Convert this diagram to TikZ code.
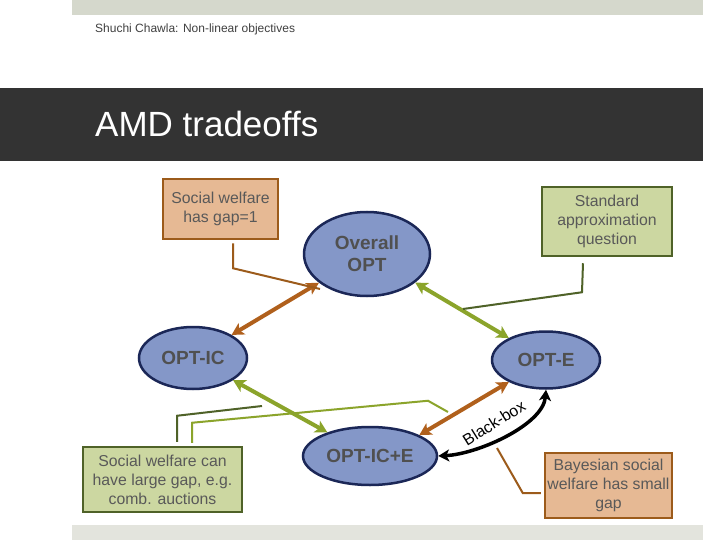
\documentclass[tikz,border=0pt]{standalone}
\usepackage{fontspec}
\setmainfont{Liberation Sans}
\usetikzlibrary{shapes.geometric,arrows.meta}
\definecolor{topbar}{HTML}{D5D8CC}
\definecolor{botbar}{HTML}{E3E4DD}
\definecolor{darkbar}{HTML}{333333}
\definecolor{ellfill}{HTML}{8497C8}
\definecolor{ellline}{HTML}{1B2757}
\definecolor{elltext}{HTML}{505050}
\definecolor{tanfill}{HTML}{E6B994}
\definecolor{tanline}{HTML}{9C5B1B}
\definecolor{grnfill}{HTML}{CCD7A1}
\definecolor{grnline}{HTML}{4F6228}
\definecolor{brownarr}{HTML}{B0601C}
\definecolor{greenarr}{HTML}{8BA42B}
\definecolor{boxtext}{HTML}{595959}
\definecolor{hdrtext}{HTML}{404040}
\begin{document}
\begin{tikzpicture}[x=1pt,y=-1pt,
  ell/.style={ellipse, draw=ellline, line width=2.5pt, fill=ellfill, inner sep=0pt,
    font=\fontsize{19}{22}\selectfont\bfseries, text=elltext, align=center},
  tanbox/.style={rectangle, draw=tanline, line width=2.5pt, fill=tanfill, inner sep=0pt,
    font=\fontsize{15.8}{19}\selectfont, text=boxtext, align=center},
  grnbox/.style={rectangle, draw=grnline, line width=2.5pt, fill=grnfill, inner sep=0pt,
    font=\fontsize{15.8}{19}\selectfont, text=boxtext, align=center},
  tipb/.tip={Stealth[length=12pt,width=13pt,inset=3pt]},
  dbl/.style={line width=4pt, tipb-tipb},
  callout/.style={line width=2pt},
]
\useasboundingbox (0,0) rectangle (720,540);
\fill[white] (0,0) rectangle (720,540);
\fill[topbar] (72,0) rectangle (703,15);
\fill[botbar] (72,525) rectangle (703,540);
\fill[darkbar] (0,88) rectangle (703,161);
\node[anchor=base west, inner sep=0pt, font=\fontsize{12}{14}\selectfont, text=hdrtext] (hdr) at (95,33) {Shuchi Chawla: Non-linear objectives};
\node[anchor=base west, inner sep=0pt, font=\fontsize{35}{40}\selectfont, text=white] (title) at (95,137) {AMD tradeoffs};

% ellipses
\node[ell, minimum width=126pt, minimum height=84pt] (opt) at (367,254) {Overall\\OPT};
\node[ell, minimum width=108pt, minimum height=62pt] (ic) at (193,358) {OPT-IC};
\node[ell, minimum width=108pt, minimum height=57pt] (e) at (546,360) {OPT-E};
\node[ell, minimum width=134pt, minimum height=58pt] (ice) at (370,456) {OPT-IC+E};

% boxes
\node[tanbox, minimum width=115pt, minimum height=60pt] (b1) at (220.5,209) {Social welfare\\has gap=1};
\node[grnbox, minimum width=130pt, minimum height=69pt] (b2) at (607,221.5) {Standard\\approximation\\question};
\node[grnbox, minimum width=159pt, minimum height=65pt] (b3) at (162.5,479.5) {Social welfare can\\have large gap, e.g.\\comb. auctions};
\node[tanbox, minimum width=127pt, minimum height=65pt] (b4) at (608.5,485.5) {Bayesian social\\welfare has small\\gap};

% double arrows
\draw[dbl, brownarr] (ic) -- (opt);
\draw[dbl, greenarr] (opt) -- (e);
\draw[dbl, greenarr] (ic) -- (ice);
\draw[dbl, brownarr] (ice.23) -- (e);

% black-box
\draw[line width=3.5pt, {Stealth[length=11pt,width=12pt,inset=3pt]}-{Stealth[length=11pt,width=12pt,inset=3pt]}]
  (ice.east) .. controls +(40,-2) and +(-3,35) .. (e.south);
\node[rotate=32, inner sep=0pt, font=\fontsize{16}{19}\selectfont] (bb) at (494,423) {Black-box};

% callouts
\coordinate (t1) at (320,289);
\coordinate (t2) at (463,309);
\coordinate (t3) at (262,406);
\coordinate (t4) at (448,412);
\coordinate (t5) at (497,448);
\draw[callout, tanline] (b1.south) ++(12.5,3) -- ++(0,25) -- (t1);
\draw[callout, grnline] (b2.south) ++(-24,6) -- ++(-1,29) -- (t2);
\draw[callout, grnline] (b3.north) ++(14.5,-4) -- ++(0,-26) -- (t3);
\draw[callout, greenarr] (b3.north) ++(29.5,-3) -- ++(0,-20) -- ++(236,-22) -- (t4);
\draw[callout, tanline] (b4.west) ++(-3,7.5) -- ++(-18,0) -- (t5);
\end{tikzpicture}
\end{document}
